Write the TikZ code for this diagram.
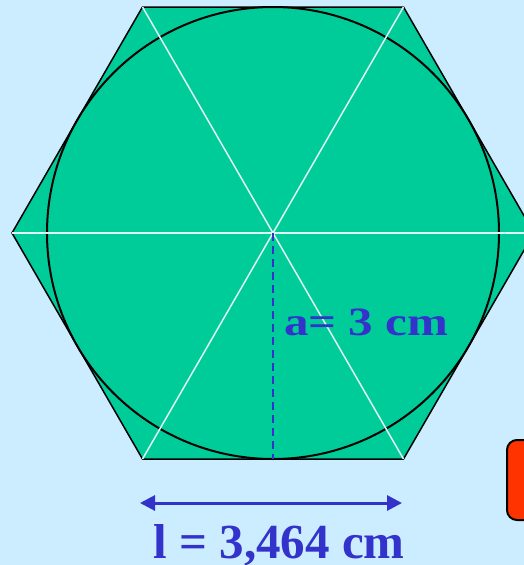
\documentclass[tikz,border=0pt]{standalone}
\usepackage{fontspec}
\setmainfont{Liberation Serif}
\usetikzlibrary{arrows.meta}
\definecolor{bgblue}{RGB}{204,236,255}
\definecolor{hexgreen}{RGB}{0,204,153}
\definecolor{txtblue}{RGB}{51,51,204}
\definecolor{boxred}{RGB}{255,51,0}
\definecolor{linewhite}{RGB}{225,245,245}
\tikzset{
  spoke/.style={draw=linewhite, line width=1.5pt},
  lbl/.style={text=txtblue, font=\bfseries\fontsize{49}{55}\selectfont, inner sep=0pt, anchor=base},
}
\begin{document}
\begin{tikzpicture}[x=1pt,y=-1pt]
\useasboundingbox (0,0) rectangle (524,565);
\clip (0,0) rectangle (524,565);
\fill[bgblue] (0,0) rectangle (524,565);
\coordinate (O) at (273,233);
\coordinate (V0) at (534,233);
\coordinate (V1) at (403.5,7);
\coordinate (V2) at (142.5,7);
\coordinate (V3) at (12,233);
\coordinate (V4) at (142.5,459);
\coordinate (V5) at (403.5,459);
\coordinate (B) at (273,459);
\filldraw[fill=hexgreen, draw=black, line width=1.5pt, line join=miter] (V0) -- (V1) -- (V2) -- (V3) -- (V4) -- (V5) -- cycle;
\draw[black, line width=2pt] (O) circle[radius=226];
\foreach \v in {V0,V1,V2,V3,V4,V5} \draw[spoke] (O) -- (\v);
\draw[txtblue, line width=2pt, dash pattern=on 8pt off 5pt] (O) -- (B);
\node[lbl] (a) at (366,335) {\scalebox{1}[0.82]{a= 3 cm}};
\coordinate (L) at (140,503);
\coordinate (R) at (402,503);
\draw[txtblue, line width=3pt, {Triangle[length=15pt,width=15pt]}-{Triangle[length=15pt,width=15pt]}] (L) -- (R);
\node[lbl] (l) at (279,558) {l = 3,464 cm};
\filldraw[fill=boxred, draw=black, line width=2pt, rounded corners=10pt] (507,440) rectangle (560,520);
\end{tikzpicture}
\end{document}
